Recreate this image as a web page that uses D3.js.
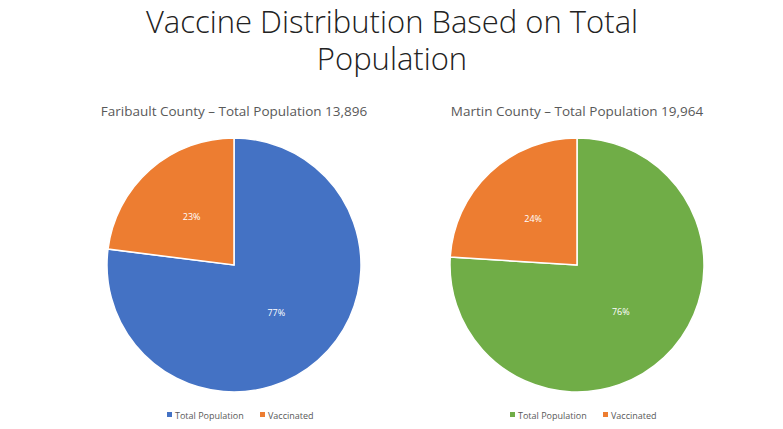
<!DOCTYPE html>
<html><head><meta charset="utf-8">
<script src="https://cdn.jsdelivr.net/npm/d3@7"></script>
<style>body{margin:0;background:#fff;font-family:"Open Sans",sans-serif;}</style>
</head><body><div id="chart"></div>
<script>
const categories = ["Total Population", "Vaccinated"];
const counties = ["Faribault County – Total Population 13,896", "Martin County – Total Population 19,964"];
const shares = [[77, 23], [76, 24]];
const firstColors = ["#4472c4", "#70ad47"];
const orange = "#ed7d31";

const width = 783, height = 429;
let svg = d3.select("#chart").append("svg").attr("width", width).attr("height", height);

svg.append("text").attr("x", 392).attr("y", 33).attr("text-anchor", "middle")
    .style("font-size", "31px").style("font-weight", 300).attr("fill", "#222").text("Vaccine Distribution Based on Total");
svg.append("text").attr("x", 392).attr("y", 70).attr("text-anchor", "middle")
    .style("font-size", "31px").style("font-weight", 300).attr("fill", "#222").text("Population");

const centers = [234, 577];
const r = 127;
let pie = d3.pie().sort(null);
let arc = d3.arc().innerRadius(0).outerRadius(r);
let labelArc = d3.arc().innerRadius(64).outerRadius(64);

shares.forEach((vals, i) => {
    let g = svg.append("g").attr("transform", `translate(${centers[i]},265)`);
    let color = d3.scaleOrdinal().domain(categories).range([firstColors[i], orange]);
    let arcs = pie(vals);
    g.selectAll("path").data(arcs).join("path")
        .attr("d", arc).attr("fill", (d, j) => color(categories[j]))
        .attr("stroke", "#fff").attr("stroke-width", 1.5);
    g.selectAll(".lbl").data(arcs).join("text").attr("class", "lbl")
        .attr("transform", d => `translate(${labelArc.centroid(d)})`)
        .attr("text-anchor", "middle").attr("dy", "0.35em")
        .style("font-size", "9px").attr("fill", "#fff").text(d => d.data + "%");

    svg.append("text").attr("x", centers[i]).attr("y", 116).attr("text-anchor", "middle")
        .style("font-size", "13.5px").attr("fill", "#595959").text(counties[i]);

    let leg = svg.append("g").attr("transform", `translate(${centers[i] - 67},416)`);
    categories.forEach((c, j) => {
        let x = j === 0 ? 0 : 93;
        leg.append("rect").attr("x", x).attr("y", -4).attr("width", 5).attr("height", 5).attr("fill", color(c));
        leg.append("text").attr("x", x + 8).attr("y", 0).attr("dy", "0.35em")
            .style("font-size", "9px").attr("fill", "#595959").text(c);
    });
});
</script></body></html>
